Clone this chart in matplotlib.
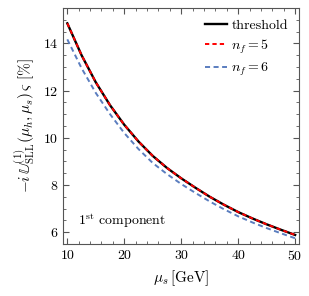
import numpy as np
from matplotlib import pyplot as plt

plt.rcParams['font.family'] = 'serif'
plt.rcParams['font.serif'] = ['cmr10']
plt.rcParams['mathtext.fontset'] = 'cm'
plt.rcParams['axes.formatter.use_mathtext'] = True

mu_s = [10, 12.5, 15, 17.5, 20, 22.5, 25, 27.5, 30, 32.5, 35, 37.5, 40, 42.5, 45, 47.5, 50]
threshold = [14.85, 13.50, 12.35, 11.38, 10.55, 9.84, 9.23, 8.72, 8.28, 7.88, 7.50, 7.16, 6.85, 6.58, 6.33, 6.10, 5.88]
nf5 = [14.85, 13.50, 12.35, 11.38, 10.55, 9.84, 9.23, 8.72, 8.28, 7.88, 7.50, 7.16, 6.85, 6.58, 6.33, 6.10, 5.88]
nf6 = [14.17, 12.95, 11.90, 11.00, 10.20, 9.52, 8.93, 8.46, 8.04, 7.66, 7.30, 6.97, 6.67, 6.41, 6.17, 5.95, 5.74]

fig = plt.figure(figsize=(3.09, 2.96), dpi=100)
ax = fig.add_axes([0.204, 0.176, 0.764, 0.797])

ax.plot(mu_s, threshold, color="black", lw=1.7, label="threshold")
ax.plot(mu_s, nf5, color="red", lw=1.4, ls=(0, (2.2, 1.6)), label=r"$n_f=5$")
ax.plot(mu_s, nf6, color="#5a7dbf", lw=1.4, ls=(0, (2.6, 1.8)), label=r"$n_f=6$")

ax.set_xlim(9.25, 50.7)
ax.set_ylim(5.5, 15.5)
ax.set_xticks([10, 20, 30, 40, 50])
ax.set_yticks([6, 8, 10, 12, 14])
ax.set_xticks(np.arange(10, 51, 2), minor=True)
ax.set_yticks(np.arange(5.5, 15.6, 0.5), minor=True)
ax.tick_params(which="both", direction="in", top=True, right=True, color="#555555", labelsize=10)
ax.tick_params(which="major", length=4)
ax.tick_params(which="minor", length=2)
for s in ax.spines.values():
    s.set_color("#555555")

ax.set_xlabel(r"$\mu_s\,$[GeV]", fontsize=11)
ax.set_ylabel(r"$-i\,\mathbb{U}^{(1)}_{\rm SLL}(\mu_h,\mu_s)\,\varsigma$ [%]", fontsize=11)
ax.text(11.9, 6.5, r"1$^{\rm st}$ component", fontsize=10, va="center")

ax.legend(loc="upper right", frameon=False, fontsize=10, handlelength=1.6, handletextpad=0.3, labelspacing=0.4, borderaxespad=0.4)

fig.savefig("out.png", dpi=100)
